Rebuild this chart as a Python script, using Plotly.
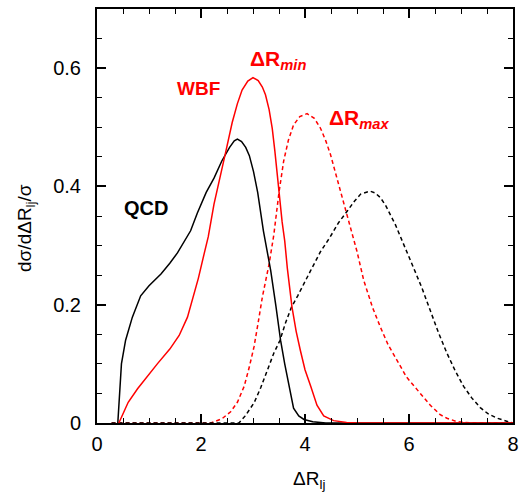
import plotly.graph_objects as go

# QCD, Delta R_min (black solid)
qcd_min_x = [0.40, 0.42, 0.44, 0.47, 0.55, 0.68, 0.84, 1.00, 1.23, 1.40, 1.55, 1.68, 1.80, 1.93, 2.10, 2.25, 2.40, 2.55, 2.64, 2.70, 2.78, 2.86, 2.93, 3.01, 3.09, 3.20, 3.34, 3.44, 3.53, 3.61, 3.69, 3.78, 3.88, 3.98, 4.15, 4.40, 8.0]
qcd_min_y = [0.0, 0.03, 0.07, 0.10, 0.14, 0.179, 0.215, 0.232, 0.252, 0.270, 0.288, 0.306, 0.325, 0.355, 0.390, 0.414, 0.443, 0.466, 0.477, 0.480, 0.476, 0.466, 0.452, 0.425, 0.390, 0.325, 0.258, 0.198, 0.140, 0.100, 0.067, 0.025, 0.012, 0.006, 0.002, 0.0, 0.0]

# WBF, Delta R_min (red solid)
wbf_min_x = [0.42, 0.60, 0.78, 1.00, 1.16, 1.40, 1.58, 1.74, 1.86, 1.95, 2.06, 2.14, 2.25, 2.37, 2.48, 2.60, 2.70, 2.79, 2.90, 3.00, 3.10, 3.18, 3.24, 3.31, 3.37, 3.42, 3.47, 3.52, 3.56, 3.61, 3.66, 3.75, 3.83, 3.91, 4.00, 4.11, 4.23, 4.36, 4.55, 4.80, 5.00, 8.0]
wbf_min_y = [0.0, 0.035, 0.058, 0.083, 0.100, 0.125, 0.148, 0.179, 0.215, 0.245, 0.286, 0.315, 0.370, 0.420, 0.460, 0.508, 0.540, 0.563, 0.578, 0.584, 0.579, 0.568, 0.555, 0.530, 0.498, 0.460, 0.414, 0.370, 0.340, 0.308, 0.262, 0.196, 0.155, 0.123, 0.090, 0.062, 0.030, 0.012, 0.004, 0.001, 0.0, 0.0]

# WBF, Delta R_max (red dashed)
wbf_max_x = [0.28, 2.19, 2.40, 2.57, 2.70, 2.83, 2.93, 3.02, 3.10, 3.18, 3.31, 3.40, 3.50, 3.59, 3.68, 3.78, 3.90, 4.04, 4.18, 4.30, 4.40, 4.49, 4.58, 4.68, 4.80, 4.91, 5.00, 5.13, 5.30, 5.45, 5.60, 5.77, 5.95, 6.16, 6.41, 6.60, 6.73, 6.90, 7.05, 7.30, 8.0]
wbf_max_y = [0.0, 0.0, 0.007, 0.019, 0.035, 0.062, 0.095, 0.129, 0.170, 0.213, 0.269, 0.318, 0.390, 0.443, 0.478, 0.504, 0.518, 0.523, 0.515, 0.498, 0.477, 0.454, 0.425, 0.392, 0.355, 0.319, 0.290, 0.241, 0.195, 0.162, 0.132, 0.106, 0.078, 0.056, 0.030, 0.014, 0.008, 0.003, 0.001, 0.0, 0.0]

# QCD, Delta R_max (black dashed)
qcd_max_x = [0.28, 2.73, 2.85, 3.02, 3.15, 3.28, 3.40, 3.52, 3.62, 3.74, 3.86, 4.11, 4.30, 4.48, 4.64, 4.81, 4.95, 5.07, 5.25, 5.35, 5.45, 5.55, 5.64, 5.74, 5.84, 5.95, 6.09, 6.25, 6.41, 6.57, 6.73, 6.89, 7.05, 7.21, 7.37, 7.53, 7.70, 7.85, 7.95, 8.0]
qcd_max_y = [0.0, 0.0, 0.012, 0.034, 0.060, 0.090, 0.118, 0.140, 0.168, 0.196, 0.215, 0.258, 0.290, 0.314, 0.338, 0.358, 0.375, 0.387, 0.392, 0.389, 0.381, 0.368, 0.353, 0.335, 0.314, 0.290, 0.262, 0.228, 0.190, 0.152, 0.118, 0.088, 0.062, 0.042, 0.026, 0.015, 0.008, 0.003, 0.001, 0.0]

x_ticks = [0, 2, 4, 6, 8]
y_ticks = [0, 0.2, 0.4, 0.6]
y_tick_labels = ["0", "0.2", "0.4", "0.6"]

RED = "#ff0000"
FONT = "Liberation Sans, Arial, sans-serif"

fig = go.Figure()
fig.add_trace(go.Scatter(x=wbf_max_x, y=wbf_max_y, mode="lines",
                         line=dict(color=RED, width=1.5, dash="4px,3px")))
fig.add_trace(go.Scatter(x=qcd_max_x, y=qcd_max_y, mode="lines",
                         line=dict(color="black", width=1.5, dash="4px,3px")))
fig.add_trace(go.Scatter(x=qcd_min_x, y=qcd_min_y, mode="lines",
                         line=dict(color="black", width=1.5)))
fig.add_trace(go.Scatter(x=wbf_min_x, y=wbf_min_y, mode="lines",
                         line=dict(color=RED, width=1.5)))

axis_common = dict(
    showgrid=False, zeroline=False, showline=True, linecolor="black", linewidth=2,
    mirror="allticks", ticks="inside", ticklen=9, tickwidth=1.5, tickcolor="black",
    tickfont=dict(family=FONT, size=20, color="black"),
)

fig.update_xaxes(range=[0, 8], tickvals=x_ticks, ticktext=[str(v) for v in x_ticks],
                 minor=dict(dtick=0.5, ticks="inside", ticklen=5, tickwidth=1.2, tickcolor="black"),
                 ticklabelstandoff=2, **axis_common)
fig.update_yaxes(range=[0, 0.7], tickvals=y_ticks, ticktext=y_tick_labels,
                 minor=dict(dtick=0.05, ticks="inside", ticklen=5, tickwidth=1.2, tickcolor="black"),
                 ticklabelstandoff=10, **axis_common)

def px_to_paper(px, py):
    return (px - 97) / 416.0, (423 - py) / 416.0

annos = []
# axis titles
ax, ay = px_to_paper(309, 494)
annos.append(dict(x=ax, y=ay, xref="paper", yref="paper", text="ΔR<sub>lj</sub>",
                  showarrow=False, font=dict(family=FONT, size=19, color="black")))
ax, ay = px_to_paper(12, 227)
annos.append(dict(x=ax, y=ay, xref="paper", yref="paper", text="dσ/dΔR<sub>lj</sub>/σ",
                  textangle=-90, showarrow=False, font=dict(family=FONT, size=19, color="black")))
# in-plot labels
annos.append(dict(x=0.94, y=0.364, xref="x", yref="y", text="<b>QCD</b>", showarrow=False,
                  font=dict(family=FONT, size=20, color="black")))
annos.append(dict(x=1.96, y=0.565, xref="x", yref="y", text="<b>WBF</b>", showarrow=False,
                  font=dict(family=FONT, size=19, color=RED)))
annos.append(dict(x=3.48, y=0.613, xref="x", yref="y", text="<b>ΔR<sub><i>min</i></sub></b>", showarrow=False,
                  font=dict(family=FONT, size=21, color=RED)))
annos.append(dict(x=5.03, y=0.514, xref="x", yref="y", text="<b>ΔR<sub><i>max</i></sub></b>", showarrow=False,
                  font=dict(family=FONT, size=21, color=RED)))

fig.update_layout(
    width=529, height=494,
    margin=dict(l=97, r=16, t=7, b=71),
    paper_bgcolor="white", plot_bgcolor="white",
    showlegend=False,
    annotations=annos,
    font=dict(family=FONT, color="black"),
)

fig.write_html("out.html")
